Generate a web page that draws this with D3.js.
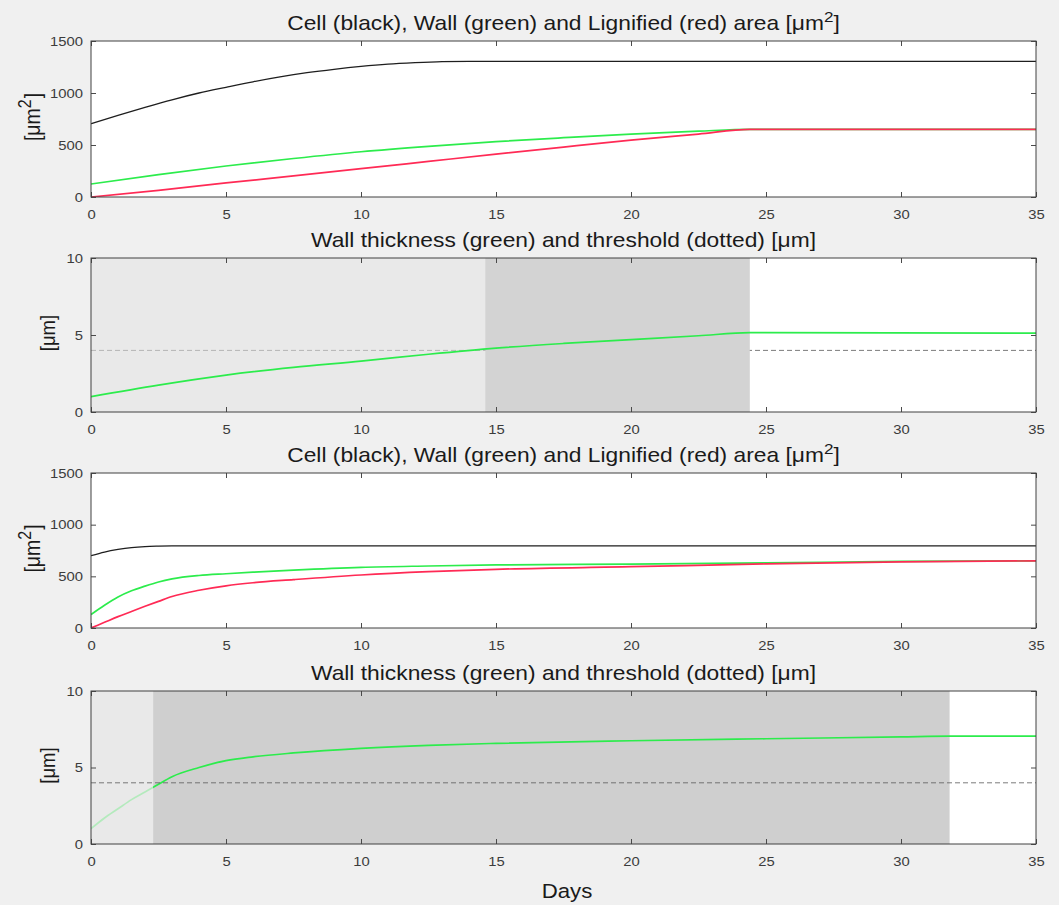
<!DOCTYPE html>
<html>
<head>
<meta charset="utf-8">
<script src="https://cdn.jsdelivr.net/npm/d3@7"></script>
<style>
  body { margin: 0; background: #f0f0f0; }
  text { font-family: "Liberation Sans", Arial, Helvetica, sans-serif; }
</style>
</head>
<body>
<svg id="chart"></svg>
<script>
// ticks
const dayTicks = [0, 5, 10, 15, 20, 25, 30, 35];
const areaTicks = [0, 500, 1000, 1500];
const thickTicks = [0, 5, 10];
const threshold = 4;

// panel 1: slow growth
const cellDays1 = [0, 1, 2, 3, 4, 5, 6, 7, 8, 9, 10, 11, 12, 13, 14, 35];
const cell1 = [705, 785, 862, 935, 1000, 1055, 1108, 1155, 1195, 1228, 1256, 1278, 1292, 1302, 1305, 1305];
const wallDays1 = [0, 2.5, 5, 7.5, 10, 12.5, 15, 17.5, 20, 22.5, 24.4, 35];
const wall1 = [125, 215, 298, 370, 435, 487, 532, 570, 605, 633, 650, 650];
const lig1 = [0, 64, 135, 203, 272, 342, 412, 480, 546, 605, 650, 650];

// panel 2: wall thickness, slow growth
const thick2 = [1.0, 1.75, 2.4, 2.9, 3.3, 3.75, 4.15, 4.45, 4.7, 4.95, 5.15, 5.12];
const shade2 = [[0, 14.6], [14.6, 24.4]];

// panel 3: fast growth
const days3 = [0, 0.5, 1, 1.5, 2, 2.5, 3, 4, 5, 6, 7.5, 10, 12.5, 15, 20, 25, 30, 35];
const cell3 = [700, 735, 760, 778, 788, 792, 794, 794, 794, 794, 794, 794, 794, 794, 794, 794, 794, 794];
const wall3 = [130, 220, 300, 360, 405, 445, 475, 508, 525, 540, 560, 587, 600, 610, 618, 630, 645, 650];
const lig3 = [0, 55, 110, 160, 210, 258, 305, 365, 408, 438, 468, 513, 545, 568, 593, 620, 640, 650];

// panel 4: wall thickness, fast growth
const days4 = [0, 0.5, 1, 1.5, 2, 2.4, 3, 4, 5, 6, 7.5, 10, 12.5, 15, 20, 25, 30, 31.8, 35];
const thick4 = [1.0, 1.7, 2.3, 2.9, 3.4, 3.8, 4.4, 5.0, 5.45, 5.7, 5.95, 6.25, 6.45, 6.58, 6.75, 6.88, 7.0, 7.05, 7.05];
const shade4 = [[0, 2.3], [2.3, 31.8]];

const areaTitle = "Cell (black), Wall (green) and Lignified (red) area [\u03bcm";
const thickTitle = "Wall thickness (green) and threshold (dotted) [\u03bcm]";

const W = 1059, H = 905;
const left = 91, right = 1036;
const STRETCH = 1.14; // the picture is a little wider than tall
const BLACK = "#1e1e1e", GREEN = "#2cec4c", RED = "#ff2a55";

const svg = d3.select("#chart").attr("width", W).attr("height", H);
svg.append("rect").attr("width", W).attr("height", H).attr("fill", "#f0f0f0");

const x = d3.scaleLinear().domain([0, 35]).range([left, right]);

const panels = [
  { top: 41, bottom: 197, yMax: 1500, yTicks: areaTicks, area: true,
    series: [
      { days: cellDays1, vals: cell1, color: BLACK, w: 1.3 },
      { days: wallDays1, vals: wall1, color: GREEN, w: 1.7 },
      { days: wallDays1, vals: lig1, color: RED, w: 1.7 }
    ] },
  { top: 258, bottom: 412, yMax: 10, yTicks: thickTicks, area: false,
    shades: shade2, shadeFill: ["#dadada", "#d3d3d3"], shadeOpacity: [0.6, 1],
    thresholdOver: false, fade: false,
    series: [{ days: wallDays1, vals: thick2, color: GREEN, w: 1.7 }] },
  { top: 473, bottom: 628, yMax: 1500, yTicks: areaTicks, area: true,
    series: [
      { days: days3, vals: cell3, color: BLACK, w: 1.3 },
      { days: days3, vals: wall3, color: GREEN, w: 1.7 },
      { days: days3, vals: lig3, color: RED, w: 1.7 }
    ] },
  { top: 691, bottom: 844, yMax: 10, yTicks: thickTicks, area: false,
    shades: shade4, shadeFill: ["#e9e9e9", "#cfcfcf"], shadeOpacity: [1, 1],
    thresholdOver: true, fade: true,
    series: [{ days: days4, vals: thick4, color: GREEN, w: 1.7 }] }
];

panels.forEach(function (p, i) {
  let y = d3.scaleLinear().domain([0, p.yMax]).range([p.bottom, p.top]);
  let g = svg.append("g");

  g.append("clipPath").attr("id", "clip" + i)
    .append("rect")
    .attr("x", left).attr("y", p.top)
    .attr("width", right - left).attr("height", p.bottom - p.top);

  // axes background
  g.append("rect")
    .attr("x", left).attr("y", p.top)
    .attr("width", right - left).attr("height", p.bottom - p.top)
    .attr("fill", "#ffffff");

  let plot = g.append("g").attr("clip-path", "url(#clip" + i + ")");

  function drawThreshold() {
    plot.append("line")
      .attr("x1", x(0)).attr("x2", x(35))
      .attr("y1", y(threshold)).attr("y2", y(threshold))
      .attr("stroke", "#5a5a5a").attr("stroke-width", 0.8)
      .attr("stroke-dasharray", "5 3");
  }

  function drawShades() {
    plot.selectAll(".shade")
      .data(p.shades)
      .enter().append("rect")
      .attr("class", "shade")
      .attr("x", function (d) { return x(d[0]); })
      .attr("width", function (d) { return x(d[1]) - x(d[0]); })
      .attr("y", p.top).attr("height", p.bottom - p.top)
      .attr("fill", function (d, k) { return p.shadeFill[k]; })
      .attr("fill-opacity", function (d, k) { return p.shadeOpacity[k]; });
  }

  if (p.shades) {
    if (p.thresholdOver) { drawShades(); } else { drawThreshold(); drawShades(); }
  }

  let line = d3.line()
    .x(function (d) { return x(d[0]); })
    .y(function (d) { return y(d[1]); })
    .curve(d3.curveMonotoneX);

  p.series.forEach(function (s) {
    plot.append("path")
      .datum(d3.zip(s.days, s.vals))
      .attr("fill", "none")
      .attr("stroke", s.color)
      .attr("stroke-width", s.w)
      .attr("stroke-linejoin", "round")
      .attr("d", line);
  });

  // first shade washes the early part of the line out
  if (p.fade) {
    plot.append("rect")
      .attr("x", x(p.shades[0][0]))
      .attr("width", x(p.shades[0][1]) - x(p.shades[0][0]))
      .attr("y", p.top).attr("height", p.bottom - p.top)
      .attr("fill", p.shadeFill[0]).attr("fill-opacity", 0.72);
  }
  if (p.shades && p.thresholdOver) drawThreshold();

  // ticks on all four sides, pointing inward
  let tickCol = "#4a4a4a";
  g.append("g").attr("transform", "translate(0," + p.bottom + ")")
    .call(d3.axisBottom(x).tickValues(dayTicks).tickSizeInner(-5).tickSizeOuter(0).tickPadding(13));
  g.append("g").attr("transform", "translate(0," + p.top + ")")
    .call(d3.axisTop(x).tickValues(dayTicks).tickSizeInner(-5).tickSizeOuter(0).tickFormat(""));
  g.append("g").attr("transform", "translate(" + left + ",0)")
    .call(d3.axisLeft(y).tickValues(p.yTicks).tickFormat(d3.format("d"))
      .tickSizeInner(-5).tickSizeOuter(0).tickPadding(7));
  g.append("g").attr("transform", "translate(" + right + ",0)")
    .call(d3.axisRight(y).tickValues(p.yTicks).tickSizeInner(-5).tickSizeOuter(0).tickFormat(""));

  g.selectAll(".domain").remove();
  g.selectAll(".tick line").attr("stroke", tickCol);
  g.selectAll(".tick text")
    .attr("fill", "#3c3c3c")
    .style("font-size", "13px")
    .attr("transform", "scale(" + STRETCH + ",1)");

  // box
  g.append("rect")
    .attr("x", left).attr("y", p.top)
    .attr("width", right - left).attr("height", p.bottom - p.top)
    .attr("fill", "none").attr("stroke", "#404040").attr("stroke-width", 1);

  // title
  let t = g.append("text")
    .attr("transform", "translate(" + ((left + right) / 2) + "," + (p.top - 11) + ") scale(" + STRETCH + ",1)")
    .attr("text-anchor", "middle")
    .style("font-size", "20px")
    .attr("fill", "#1a1a1a");
  if (p.area) {
    t.append("tspan").text(areaTitle);
    t.append("tspan").attr("dy", -8).style("font-size", "15px").text("2");
    t.append("tspan").attr("dy", 8).text("]");
  } else {
    t.text(thickTitle);
  }

  // y label
  let lx = p.area ? 40 : 55;
  let lab = g.append("text")
    .attr("transform", "translate(" + lx + "," + ((p.top + p.bottom) / 2 - 2) + ") scale(" + STRETCH + ",1) rotate(-90)")
    .attr("text-anchor", "middle")
    .attr("fill", "#1a1a1a");
  if (p.area) {
    lab.style("font-size", "19.5px");
    lab.append("tspan").text("[\u03bcm");
    lab.append("tspan").attr("dy", -8).style("font-size", "16px").text("2");
    lab.append("tspan").attr("dy", 8).attr("dx", 1).text("]");
  } else {
    lab.style("font-size", "18.5px").text("[\u03bcm]");
  }
});

// x label
svg.append("text")
  .attr("transform", "translate(567,898) scale(" + STRETCH + ",1)")
  .attr("text-anchor", "middle")
  .style("font-size", "19.5px")
  .attr("fill", "#1a1a1a")
  .text("Days");
</script>
</body>
</html>
